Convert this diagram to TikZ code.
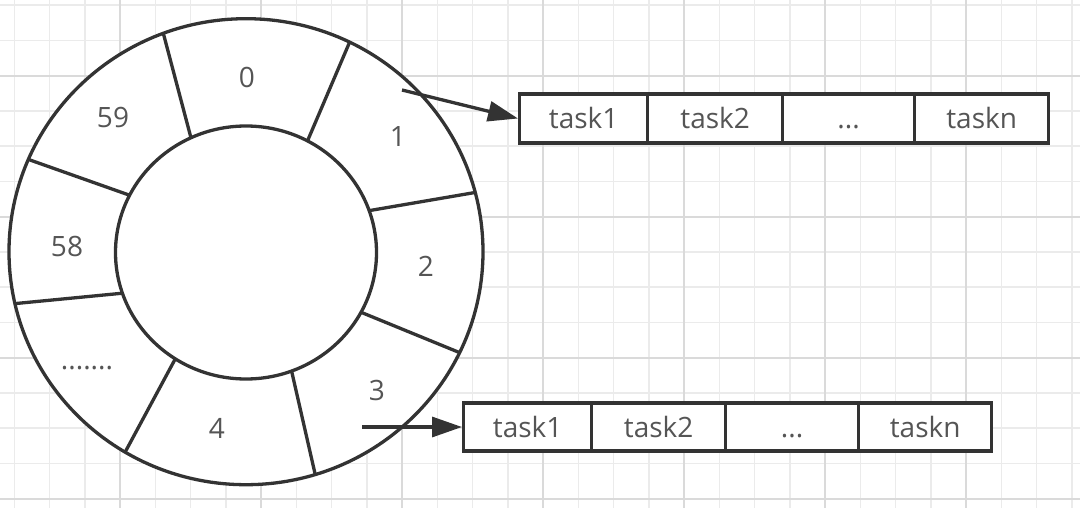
\documentclass[tikz,border=0pt]{standalone}
\usepackage{fontspec}
\setmainfont{Open Sans}
\usetikzlibrary{arrows.meta}
\definecolor{ink}{HTML}{333333}
\definecolor{txt}{HTML}{555555}
\definecolor{gridminor}{HTML}{EBEBEB}
\definecolor{gridmajor}{HTML}{DADADA}
\begin{document}
\begin{tikzpicture}[x=1pt,y=-1pt,
  ringline/.style={draw=ink,line width=3.3pt,fill=white},
  spoke/.style={draw=ink,line width=3.3pt},
  lbl/.style={text=txt,font=\fontsize{28}{30}\selectfont,inner sep=0pt},
  cell/.style={draw=ink,line width=3.3pt,fill=white,minimum height=49pt,inner sep=0pt,
    text height=21pt,text depth=0pt,
    text=txt,font=\fontsize{28}{30}\selectfont,anchor=west},
  ptr/.style={draw=ink,line width=3.3pt,-{Triangle[length=30pt,width=20pt]}},
  gminor/.style={draw=gridminor,line width=1.5pt},
  gmajor/.style={draw=gridmajor,line width=1.8pt}
]
\useasboundingbox[fill=white] (0,0) rectangle (1080,508);
% grid
\foreach \k in {-3,...,27}{\draw[gminor] ({120+35.25*\k},0) -- ({120+35.25*\k},508);}
\foreach \k in {-6,...,8}{\draw[gminor] (0,{216.7+35.25*\k}) -- (1080,{216.7+35.25*\k});}
\foreach \k in {0,...,6}{\draw[gmajor] ({120+141*\k},0) -- ({120+141*\k},508);}
\foreach \k in {-1,...,2}{\draw[gmajor] (0,{216.7+141*\k}) -- (1080,{216.7+141*\k});}
% wheel
\path[ringline] (246,251.7) ellipse [x radius=237pt, y radius=233pt];
\path[ringline] (246,252.5) ellipse [x radius=130.5pt, y radius=126.5pt];
\begin{scope}[shift={(246,252)}]
  \draw[spoke] (110.4:237pt and 233pt) -- (115.0:130.5pt and 126.5pt);
  \draw[spoke] (64.1:237pt and 233pt) -- (61.8:130.5pt and 126.5pt);
  \draw[spoke] (14.8:237pt and 233pt) -- (19.1:130.5pt and 126.5pt);
  \draw[spoke] (-25.6:237pt and 233pt) -- (-28.4:130.5pt and 126.5pt);
  \draw[spoke] (-73.0:237pt and 233pt) -- (-69.6:130.5pt and 126.5pt);
  \draw[spoke] (-120.7:237pt and 233pt) -- (-122.7:130.5pt and 126.5pt);
  \draw[spoke] (192.8:237pt and 233pt) -- (199.0:130.5pt and 126.5pt);
  \draw[spoke] (156.6:237pt and 233pt) -- (153.3:130.5pt and 126.5pt);
\end{scope}
% slot labels
\node[lbl] (s0) at (247,77) {0};
\node[lbl] (s1) at (398,137) {1};
\node[lbl] (s2) at (426,266) {2};
\node[lbl] (s3) at (377,390) {3};
\node[lbl] (s4) at (217,428) {4};
\node[lbl,anchor=base] (sdots) at (87,369) {.......};
\node[lbl] (s58) at (67,246) {58};
\node[lbl] (s59) at (113,118) {59};
% top task list
\node[cell,minimum width=128pt] (ta) at (518,118.5) {task1};
\node[cell,minimum width=135pt] (tb) at (646,118.5) {task2};
\node[cell,minimum width=132pt] (tc) at (781,118.5) {...};
\node[cell,minimum width=134pt] (td) at (913,118.5) {taskn};
% bottom task list
\node[cell,minimum width=128pt,minimum height=48pt] (ba) at (462,427) {task1};
\node[cell,minimum width=134pt,minimum height=48pt] (bb) at (590,427) {task2};
\node[cell,minimum width=133pt,minimum height=48pt] (bc) at (724,427) {...};
\node[cell,minimum width=133pt,minimum height=48pt] (bd) at (857,427) {taskn};
% pointers
\coordinate (p1) at (402,90);
\coordinate (p3) at (362,427);
\draw[ptr] (p1) -- (ta.west);
\draw[ptr] (p3) -- (ba.west);
\end{tikzpicture}
\end{document}
